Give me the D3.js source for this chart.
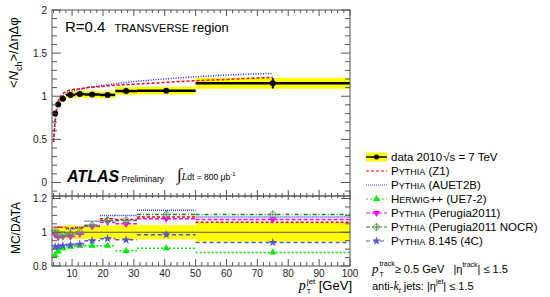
<!DOCTYPE html>
<html>
<head>
<meta charset="utf-8">
<script src="https://cdn.jsdelivr.net/npm/d3@7"></script>
<style>
body { margin: 0; background: #fff; }
svg { font-family: "Liberation Sans", Arial, sans-serif; }
svg text { white-space: pre; }
</style>
</head>
<body>
<div id="chart"></div>
<script>
// bins of jet pT (GeV) and the measured points
const binEdges = [4, 5, 6, 8, 11, 14, 19, 24, 31, 50, 100];
const dataX = [4.5, 5.5, 7, 9.5, 12.5, 16.5, 21.5, 27.5, 40.5, 75];
const dataY = [0.80, 0.905, 0.97, 1.015, 1.025, 1.02, 1.015, 1.06, 1.065, 1.15];
const dataStat = [0.01, 0.01, 0.01, 0.01, 0.01, 0.01, 0.01, 0.012, 0.012, 0.06];
const dataSyst = [0.03, 0.03, 0.035, 0.04, 0.04, 0.04, 0.04, 0.042, 0.042, 0.055]; // relative

// MC predictions in the upper panel (fine binning)
const curveX = [4, 4.5, 5, 5.5, 6, 7, 8, 10, 12, 15, 20, 25, 30, 40, 50, 60, 75];
const z1Curve = [0.47, 0.72, 0.86, 0.94, 0.98, 1.03, 1.055, 1.075, 1.085, 1.10, 1.115, 1.13, 1.14, 1.16, 1.18, 1.195, 1.22];
const auCurve = [0.47, 0.68, 0.82, 0.90, 0.95, 1.00, 1.03, 1.06, 1.075, 1.10, 1.125, 1.15, 1.17, 1.20, 1.225, 1.245, 1.265];

// MC/DATA ratios per bin
const z1Ratio = [1.03, 1.03, 1.03, 1.025, 1.025, 1.04, 1.08, 1.075, 1.09, 1.06];
const auRatio = [0.99, 0.98, 1.0, 1.02, 1.03, 1.065, 1.10, 1.10, 1.13, 1.09];
const herwigRatio = [0.866, 0.886, 0.906, 0.915, 0.92, 0.92, 0.92, 0.89, 0.905, 0.88];
const perugiaRatio = [0.985, 0.97, 0.975, 0.975, 0.99, 1.035, 1.06, 1.05, 1.08, 1.075];
const nocrRatio = [1.01, 0.98, 0.98, 0.99, 1.0, 1.04, 1.07, 1.07, 1.105, 1.105];
const c4Ratio = [0.915, 0.915, 0.92, 0.925, 0.93, 0.95, 0.962, 0.955, 0.985, 0.94];

const xTickLabels = ["10", "20", "30", "40", "50", "60", "70", "80", "90", "100"];
const yTickLabels = ["0", "0.5", "1", "1.5", "2"];
const rTickLabels = ["0.8", "1", "1.2"];

const W = 550, H = 297;
const left = 52, right = 350, topY = 10, midY = 196, botY = 266;
const frameCol = "#555";

const svg = d3.select("#chart").append("svg").attr("width", W).attr("height", H);

const x = d3.scaleLinear().domain([3.5, 100]).range([left, right]);
const y = d3.scaleLinear().domain([-0.157, 2]).range([midY, topY]);
const yr = d3.scaleLinear().domain([0.8, 1.215]).range([botY, midY]);

// series description for the ratio panel + legend
const series = [
  { name: ["P", "YTHIA", " (Z1)"], vals: z1Ratio, color: "#ff0000", dash: "3,2", marker: null },
  { name: ["P", "YTHIA", " (AUET2B)"], vals: auRatio, color: "#3333ff", dash: "1,1", marker: null },
  { name: ["H", "ERWIG", "++ (UE7-2)"], vals: herwigRatio, color: "#00ee00", dash: "2,2", marker: "up" },
  { name: ["P", "YTHIA", " (Perugia2011)"], vals: perugiaRatio, color: "#ff00ff", dash: "4,2", marker: "down" },
  { name: ["P", "YTHIA", " (Perugia2011 NOCR)"], vals: nocrRatio, color: "#118811", dash: "4,2,1,2", marker: "diamond" },
  { name: ["P", "YTHIA", " 8.145 (4C)"], vals: c4Ratio, color: "#5555cc", dash: "4,3", marker: "star" }
];

// text built piece by piece (sub/superscripts)
function rich(g, x0, y0, pieces, anchorEnd) {
  const grp = g.append("g");
  let cx = 0;
  pieces.forEach(p => {
    const t = grp.append("text").attr("x", cx + (p.dx || 0)).attr("y", p.dy || 0)
      .style("font-size", p.size + "px").attr("fill", p.fill || "#000").text(p.t);
    if (p.italic) t.style("font-style", "italic");
    if (p.bold) t.style("font-weight", "bold");
    if (p.family) t.style("font-family", p.family);
    const w = t.node().getComputedTextLength();
    if (!p.stack) cx += w + (p.dx || 0);
  });
  grp.attr("transform", `translate(${anchorEnd ? x0 - cx : x0},${y0})`);
  return grp;
}

// axis ticks, inward, ROOT style
function yTicks(scale, major, minor, labels, lenMaj, lenMin) {
  const g = svg.append("g");
  major.forEach((v, i) => {
    g.append("line").attr("x1", left).attr("x2", left + lenMaj).attr("y1", scale(v)).attr("y2", scale(v));
    g.append("line").attr("x1", right).attr("x2", right - lenMaj).attr("y1", scale(v)).attr("y2", scale(v));
    g.append("text").attr("x", left - 5).attr("y", scale(v) + 3.5).attr("text-anchor", "end")
      .style("font-size", "10px").attr("fill", "#222").attr("stroke", "none").text(labels[i]);
  });
  minor.forEach(v => {
    g.append("line").attr("x1", left).attr("x2", left + lenMin).attr("y1", scale(v)).attr("y2", scale(v));
    g.append("line").attr("x1", right).attr("x2", right - lenMin).attr("y1", scale(v)).attr("y2", scale(v));
  });
  g.selectAll("line").attr("stroke", frameCol);
}
function xTicks(yPos, dir, lenMaj, lenMin) {
  const g = svg.append("g");
  d3.range(10, 101, 10).forEach(v => {
    g.append("line").attr("x1", x(v)).attr("x2", x(v)).attr("y1", yPos).attr("y2", yPos + dir * lenMaj);
  });
  d3.range(4, 100, 2).filter(v => v % 10 !== 0).forEach(v => {
    g.append("line").attr("x1", x(v)).attr("x2", x(v)).attr("y1", yPos).attr("y2", yPos + dir * lenMin);
  });
  g.selectAll("line").attr("stroke", frameCol);
}

const bins = d3.range(dataX.length);

// ---------- upper panel ----------
svg.append("g").selectAll("rect").data(bins).join("rect")
  .attr("x", i => x(binEdges[i])).attr("width", i => x(binEdges[i + 1]) - x(binEdges[i]))
  .attr("y", i => y(dataY[i] * (1 + dataSyst[i])))
  .attr("height", i => y(dataY[i] * (1 - dataSyst[i])) - y(dataY[i] * (1 + dataSyst[i])))
  .attr("fill", "#ffff00");

const line = d3.line().x(d => x(d[0])).y(d => y(d[1])).curve(d3.curveMonotoneX);
svg.append("path").attr("d", line(curveX.map((v, i) => [v, auCurve[i]])))
  .attr("fill", "none").attr("stroke", "#2222ff").attr("stroke-width", 1.5).attr("stroke-dasharray", "1,1.5");
svg.append("path").attr("d", line(curveX.map((v, i) => [v, z1Curve[i]])))
  .attr("fill", "none").attr("stroke", "#ff0000").attr("stroke-width", 1.5).attr("stroke-dasharray", "3,2");

svg.append("g").selectAll("line").data(bins).join("line")
  .attr("x1", i => x(binEdges[i])).attr("x2", i => x(binEdges[i + 1]))
  .attr("y1", i => y(dataY[i])).attr("y2", i => y(dataY[i]))
  .attr("stroke", "#000").attr("stroke-width", 2.5);
svg.append("g").selectAll("line").data(bins).join("line")
  .attr("x1", i => x(dataX[i])).attr("x2", i => x(dataX[i]))
  .attr("y1", i => y(dataY[i] + dataStat[i])).attr("y2", i => y(dataY[i] - dataStat[i]))
  .attr("stroke", "#000").attr("stroke-width", 2);
svg.append("g").selectAll("circle").data(bins).join("circle")
  .attr("cx", i => x(dataX[i])).attr("cy", i => y(dataY[i])).attr("r", 3).attr("fill", "#000");

// ---------- ratio panel ----------
svg.append("g").selectAll("rect").data(bins).join("rect")
  .attr("x", i => x(binEdges[i])).attr("width", i => x(binEdges[i + 1]) - x(binEdges[i]))
  .attr("y", i => yr(1 + dataSyst[i])).attr("height", i => yr(1 - dataSyst[i]) - yr(1 + dataSyst[i]))
  .attr("fill", "#ffff00");
svg.append("line").attr("x1", x(binEdges[0])).attr("x2", right).attr("y1", yr(1)).attr("y2", yr(1))
  .attr("stroke", "#555").attr("stroke-width", 1);

function marker(g, type, cx, cy, color, s) {
  if (type === "up" || type === "down") {
    g.append("path").attr("d", d3.symbol(d3.symbolTriangle, s * s * 0.45)())
      .attr("transform", `translate(${cx},${cy}) rotate(${type === "down" ? 180 : 0})`).attr("fill", color);
  } else if (type === "star") {
    g.append("path").attr("d", d3.symbol(d3.symbolStar, s * s * 0.5)())
      .attr("transform", `translate(${cx},${cy})`).attr("fill", color);
  } else if (type === "diamond") {
    const r = s * 0.55;
    g.append("path").attr("d", `M${cx},${cy - r}L${cx + r},${cy}L${cx},${cy + r}L${cx - r},${cy}Z`)
      .attr("fill", "none").attr("stroke", "#669966").attr("stroke-width", 1);
    g.append("path").attr("d", `M${cx - r},${cy}H${cx + r}M${cx},${cy - r}V${cy + r}`)
      .attr("stroke", "#669966").attr("stroke-width", 1);
  }
}

series.forEach(s => {
  const g = svg.append("g");
  g.selectAll("line").data(bins).join("line")
    .attr("x1", i => x(binEdges[i])).attr("x2", i => x(binEdges[i + 1]))
    .attr("y1", i => yr(s.vals[i])).attr("y2", i => yr(s.vals[i]))
    .attr("stroke", s.color).attr("stroke-width", 1.5).attr("stroke-dasharray", s.dash);
  if (s.marker) bins.forEach(i => marker(g, s.marker, x(dataX[i]), yr(s.vals[i]), s.color, 7));
});

// ---------- frames and ticks ----------
svg.append("rect").attr("x", left).attr("y", topY).attr("width", right - left).attr("height", midY - topY)
  .attr("fill", "none").attr("stroke", frameCol);
svg.append("rect").attr("x", left).attr("y", midY).attr("width", right - left).attr("height", botY - midY)
  .attr("fill", "none").attr("stroke", frameCol);

yTicks(y, [0, 0.5, 1, 1.5, 2], d3.range(-1, 20).map(v => v / 10).filter(v => Math.round(v * 10) % 5 !== 0),
  yTickLabels, 9, 5);
yTicks(yr, [0.8, 1, 1.2], [0.85, 0.9, 0.95, 1.05, 1.1, 1.15], rTickLabels, 9, 5);
xTicks(topY, 1, 6, 3);
xTicks(midY, -1, 6, 3);
xTicks(midY, 1, 4, 2);
xTicks(botY, -1, 7, 4);
d3.range(10, 101, 10).forEach((v, i) => {
  svg.append("text").attr("x", x(v)).attr("y", 277).attr("text-anchor", "middle")
    .style("font-size", "10px").attr("fill", "#222").text(xTickLabels[i]);
});

// ---------- titles ----------
const yl = svg.append("g").attr("transform", "translate(18,88) rotate(-90)");
rich(yl, 0, 0, [
  { t: "<", size: 13 }, { t: "N", size: 13, italic: true }, { t: "ch", size: 9, dy: 4 },
  { t: ">/ΔηΔφ", size: 13 }
]);
svg.append("text").attr("transform", "translate(20,228) rotate(-90)").attr("text-anchor", "middle")
  .style("font-size", "12px").text("MC/DATA");

rich(svg, 352, 290, [
  { t: "p", size: 14, italic: true, family: "Liberation Serif" },
  { t: "jet", size: 8, dy: -6, dx: 1, stack: true }, { t: "T", size: 7, dy: 4, dx: 1 },
  { t: " [GeV]", size: 13, dx: 4 }
], true);

rich(svg, 65, 32, [{ t: "R=0.4", size: 15 }, { t: "   TRANSVERSE", size: 11 }, { t: " region", size: 13 }]);
rich(svg, 67, 182, [{ t: "ATLAS", size: 16, bold: true, italic: true }, { t: " Preliminary", size: 8.5 }]);
rich(svg, 177, 180, [
  { t: "∫", size: 17, family: "Liberation Serif" }, { t: "L", size: 10, italic: true, family: "Liberation Serif" },
  { t: "dt = 800 μb", size: 8.5 }, { t: "-1", size: 6, dy: -4 }
]);

// ---------- legend ----------
const legY = [157, 171, 185, 199, 213, 227, 241];
const lx0 = 366, lx1 = 387, tx = 391;
svg.append("rect").attr("x", lx0).attr("y", legY[0] - 4.5).attr("width", lx1 - lx0).attr("height", 9).attr("fill", "#ffff00");
svg.append("line").attr("x1", lx0).attr("x2", lx1).attr("y1", legY[0]).attr("y2", legY[0]).attr("stroke", "#000").attr("stroke-width", 1.5);
svg.append("circle").attr("cx", (lx0 + lx1) / 2).attr("cy", legY[0]).attr("r", 2.5).attr("fill", "#000");
rich(svg, tx, legY[0] + 4, [{ t: "data 2010", size: 11.5 }, { t: "√s", size: 11.5, dx: 1 }, { t: " = 7 TeV", size: 11.5 }]);

series.forEach((s, k) => {
  const ly = legY[k + 1];
  const g = svg.append("g");
  g.append("line").attr("x1", lx0).attr("x2", lx1).attr("y1", ly).attr("y2", ly)
    .attr("stroke", s.color).attr("stroke-width", 1.2).attr("stroke-dasharray", s.dash);
  if (s.marker) marker(g, s.marker, (lx0 + lx1) / 2, ly, s.color, 7);
  rich(svg, tx, ly + 4, [{ t: s.name[0], size: 11.5 }, { t: s.name[1], size: 9 }, { t: s.name[2], size: 11.5 }]);
});

rich(svg, 372, 273, [
  { t: "p", size: 13, italic: true, family: "Liberation Serif" },
  { t: "track", size: 7, dy: -7, dx: 1, stack: true }, { t: "T", size: 7, dy: 4, dx: 1 },
  { t: "≥ 0.5 GeV", size: 11, dx: 11 }, { t: "   |η", size: 11 },
  { t: "track", size: 7, dy: -6 }, { t: "| ≤ 1.5", size: 11 }
]);
rich(svg, 372, 290, [
  { t: "anti-", size: 11 }, { t: "k", size: 12, italic: true, family: "Liberation Serif" },
  { t: "t", size: 7, dy: 3, italic: true }, { t: " jets: |η", size: 11 },
  { t: "jet", size: 7, dy: -6 }, { t: "| ≤ 1.5", size: 11 }
]);
</script>
</body>
</html>
